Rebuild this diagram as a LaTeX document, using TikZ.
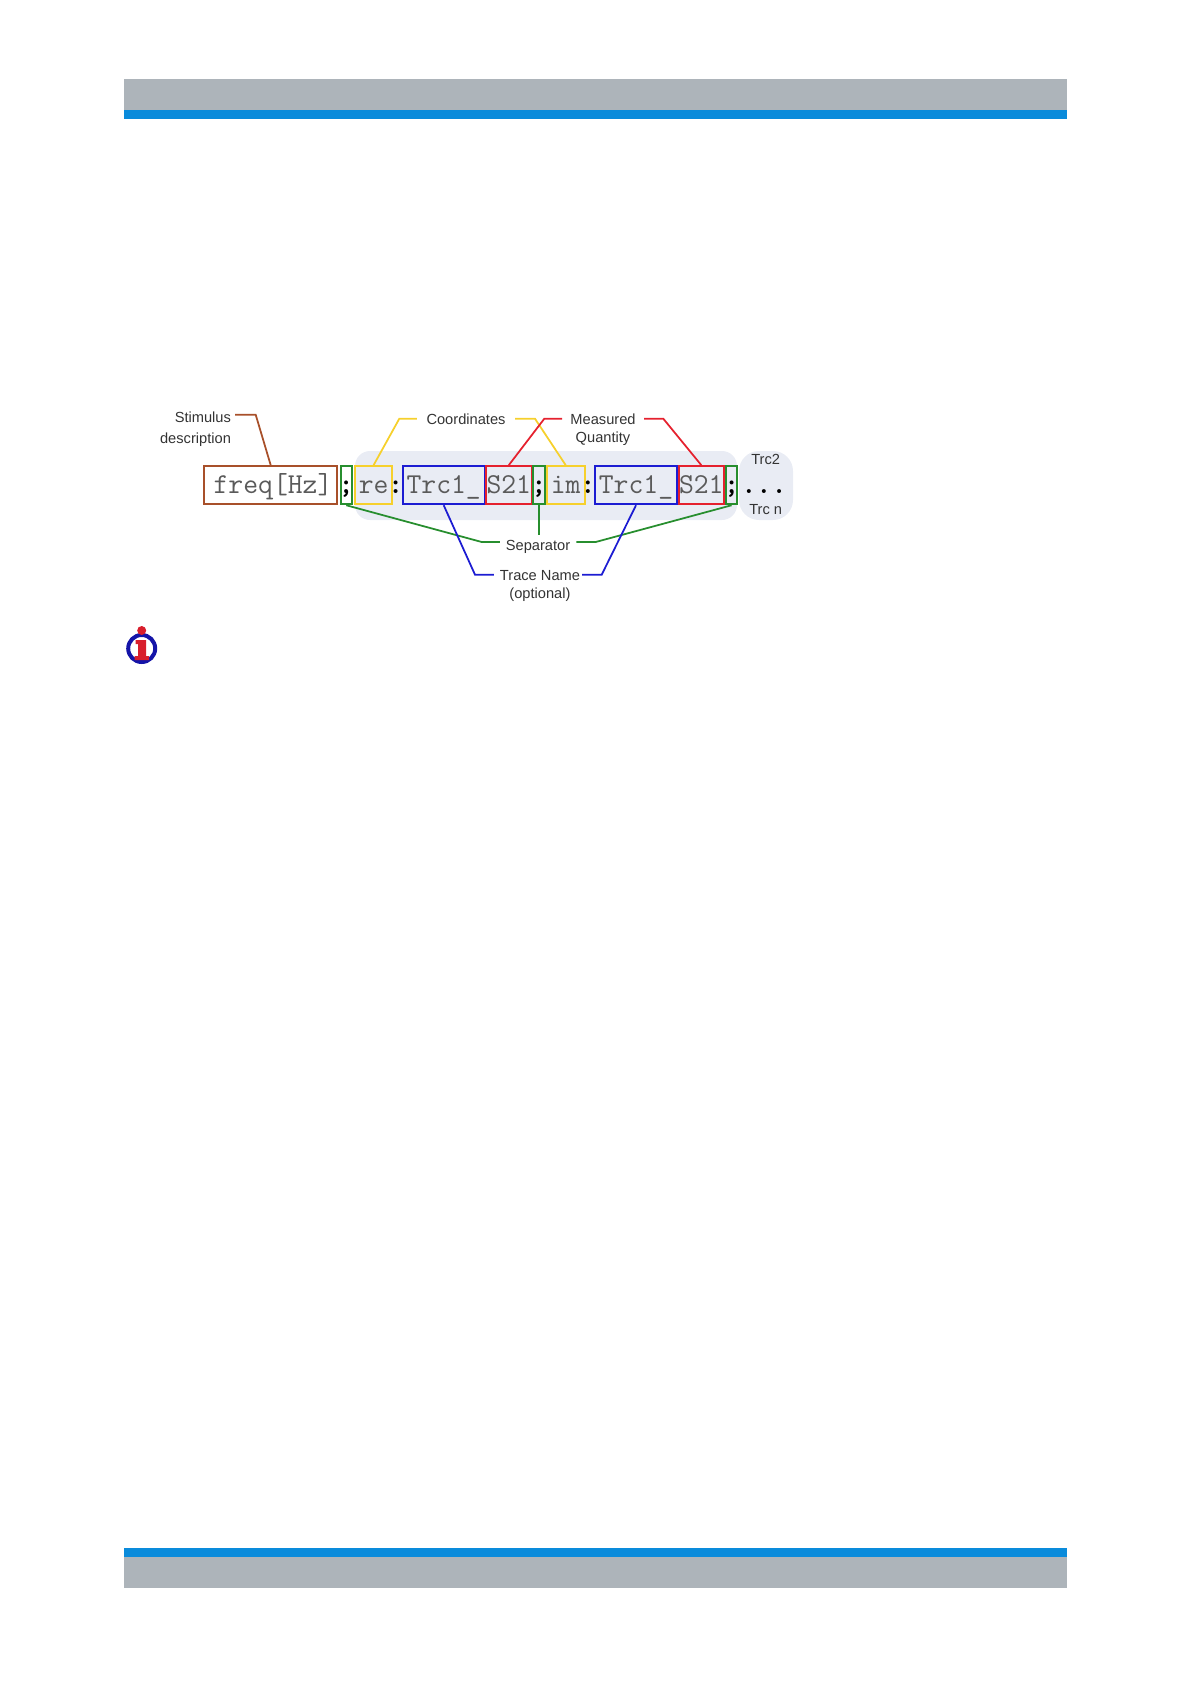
\documentclass[tikz,border=0pt]{standalone}
\usepackage{fontspec}
\setmainfont{Liberation Sans}
\definecolor{bargray}{HTML}{ADB4BA}
\definecolor{barblue}{HTML}{0A8BDB}
\definecolor{panelgray}{HTML}{E9ECF4}
\definecolor{labelgray}{HTML}{333333}
\definecolor{codegray}{HTML}{5A5A5A}
\definecolor{stimbrown}{HTML}{A8502A}
\definecolor{coordyellow}{HTML}{F6D02C}
\definecolor{quantred}{HTML}{E5212E}
\definecolor{sepgreen}{HTML}{278E2E}
\definecolor{traceblue}{HTML}{1C1CD2}
\definecolor{infoblue}{HTML}{1414A8}
\definecolor{infored}{HTML}{D81E2C}

\begin{document}
\begin{tikzpicture}[
		x=0.03cm,y=-0.03cm,
		field/.style={draw,line width=1.5pt,minimum height=1.15cm,inner sep=0pt,
			text height=15pt,text depth=0pt,text=codegray,
			font=\ttfamily\fontsize{24.6}{27}\selectfont},
		punct/.style={inner sep=0pt,text height=15pt,text depth=0pt,text=black,
			font=\ttfamily\bfseries\fontsize{24.6}{27}\selectfont},
		caption/.style={inner ysep=0pt,inner xsep=5pt,text=labelgray,
			text height=9pt,text depth=2.5pt,
			font=\fontsize{12.5}{14}\selectfont},
		wire/.style={line width=1.5pt}
		]
		\useasboundingbox (0,0) rectangle (1190,1684);

		\fill[bargray] (124,79) rectangle (1066.5,110);
		\fill[barblue] (124,110) rectangle (1066.5,118.7);
		\fill[barblue] (124,1548) rectangle (1066.5,1557);
		\fill[bargray] (124,1557) rectangle (1066.5,1588);

		\fill[panelgray,rounded corners=0.45cm] (355,451) rectangle (737,520);
		\fill[panelgray,rounded corners=0.6cm] (739,451) rectangle (793,520);

		\node[field,draw=stimbrown,minimum width=4cm,text width=3.7cm,align=right] (freq)  at (270.7,485.2) {freq[Hz]};
		\node[field,draw=sepgreen,minimum width=0.34cm]    (semia) at (346.3,485.2) {};
		\node[field,draw=coordyellow,minimum width=1.1cm]  (re)    at (373.6,485.2) {re};
		\node[field,draw=traceblue,minimum width=2.46cm]   (trca)  at (443.7,485.2) {Trc1\_};
		\node[field,draw=quantred,minimum width=1.37cm]    (sa)    at (508.8,485.2) {S21};
		\node[field,draw=sepgreen,minimum width=0.34cm]    (semib) at (539,485.2)   {};
		\node[field,draw=coordyellow,minimum width=1.14cm] (im)    at (565.7,485.2) {im};
		\node[field,draw=traceblue,minimum width=2.44cm]   (trcb)  at (636,485.2)   {Trc1\_};
		\node[field,draw=quantred,minimum width=1.36cm]    (sb)    at (701.3,485.2) {S21};
		\node[field,draw=sepgreen,minimum width=0.34cm]    (semic) at (731.6,485.2) {};

		\node[punct] (semiatext) at (346.3,485.2) {;};
		\node[punct] (colona)    at (395.7,485.2) {:};
		\node[punct] (semibtext) at (539,485.2)   {;};
		\node[punct] (colonb)    at (588,485.2)   {:};
		\node[punct] (semictext) at (731.6,485.2) {;};
		\node[punct] (dots)      at (764,485.2)   {...};

		\node[caption,anchor=east] (stim)   at (237,419.1)  {Stimulus};
		\node[caption,anchor=east] (descr)  at (237,440)    {description};
		\node[caption] (coord)  at (466,420.4)  {Coordinates};
		\node[caption] (meas)   at (603,420.4)  {Measured};
		\node[caption] (quant)  at (603,438.5)  {Quantity};
		\node[caption] (sepl)   at (538,546.5)  {Separator};
		\node[caption] (tracel) at (540,576.4)  {Trace Name};
		\node[caption] (opt)    at (540,594.7)  {(optional)};
		\node[caption] (trcii)  at (765.7,460.4) {Trc2};
		\node[caption] (trcn)   at (765.7,510.4) {Trc n};

		\coordinate (stimbend)  at (255.7,414.7);
		\coordinate (corbenda)  at (399.3,418.7);
		\coordinate (corbendb)  at (535,418.7);
		\coordinate (quabenda)  at (544.3,418.7);
		\coordinate (quabendb)  at (663.3,418.7);
		\coordinate (sepbenda)  at (481.7,542);
		\coordinate (sepbendb)  at (595.7,542);
		\coordinate (sepstop)   at (539,535);
		\coordinate (trabenda)  at (475,574.7);
		\coordinate (trabendb)  at (601.7,574.7);

		\draw[wire,stimbrown] ([xshift=-1.5pt,yshift=3.75pt]stim.east) -- (stimbend) -- (freq.north);
		\draw[wire,coordyellow] ([xshift=-3pt,yshift=1.45pt]coord.west) -- (corbenda) -- (re.north);
		\draw[wire,coordyellow] ([xshift=3pt,yshift=1.45pt]coord.east) -- (corbendb) -- (im.north);
		\draw[wire,quantred] ([xshift=-2pt,yshift=1.45pt]meas.west) -- (quabenda) -- (sa.north);
		\draw[wire,quantred] ([xshift=2pt,yshift=1.45pt]meas.east) -- (quabendb) -- (sb.north);
		\draw[wire,sepgreen] ([yshift=3.84pt]sepl.west) -- (sepbenda) -- (semia.south);
		\draw[wire,sepgreen] (semib.south) -- (sepstop);
		\draw[wire,sepgreen] ([yshift=3.84pt]sepl.east) -- (sepbendb) -- (semic.south);
		\draw[wire,traceblue] ([yshift=1.45pt]tracel.west) -- (trabenda) -- (trca.south);
		\draw[wire,traceblue] ([xshift=-3.5pt,yshift=1.45pt]tracel.east) -- (trabendb) -- (trcb.south);

		\draw[infoblue,line width=3.4pt] (141.7,648.5) circle (13.5);
		\fill[infored] (141.7,630.5) circle (4.5);
		\fill[infored] (135.5,640) -- (146,640) -- (146,656) -- (149,656)
			-- (149,660) -- (134.5,660) -- (134.5,656) -- (138,656) -- (138,644) -- (135.5,644) -- cycle;
	\end{tikzpicture}
\end{document}
